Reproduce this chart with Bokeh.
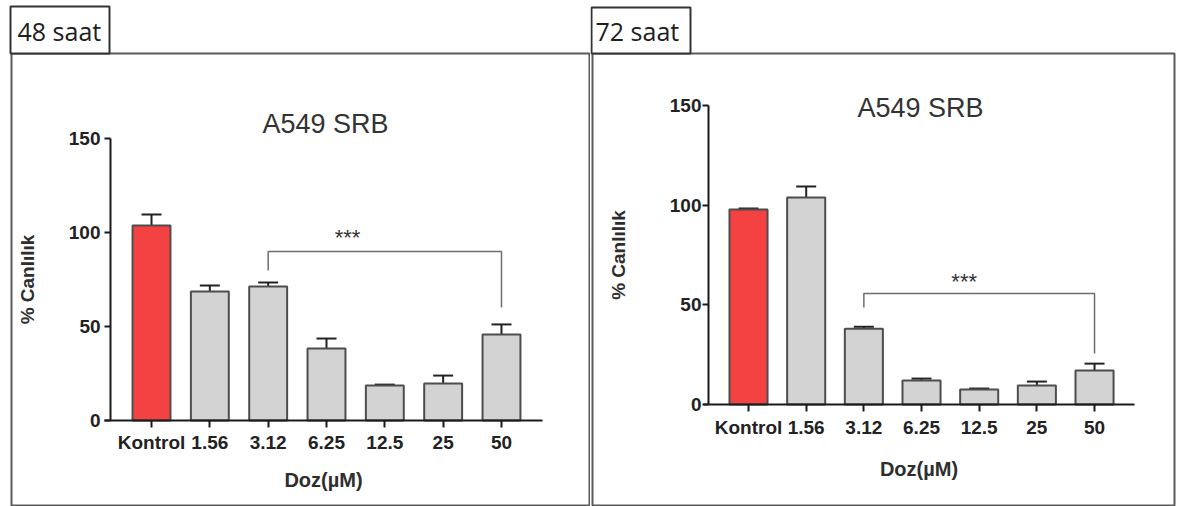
from bokeh.plotting import figure
from bokeh.models import (Range1d, FixedTicker, ColumnDataSource, Whisker, TeeHead,
                          BoxAnnotation, Label)
from bokeh.layouts import row
from bokeh.embed import file_html
from bokeh.resources import INLINE
from bokeh.core.properties import value

# ---------------- data ----------------
categories = ["Kontrol", "1.56", "3.12", "6.25", "12.5", "25", "50"]
viability_48h = [103.7, 68.6, 71.3, 38.3, 18.6, 19.7, 45.7]
error_48h = [5.9, 3.2, 2.1, 5.3, 0.5, 4.2, 5.4]
viability_72h = [97.8, 103.9, 38.0, 12.0, 7.5, 9.5, 17.0]
error_72h = [0.5, 5.5, 1.0, 1.0, 0.5, 2.0, 3.5]
y_ticks = [0, 50, 100, 150]
# significance bracket "3.12" -> "50": left tip, top, right tip (% values)
bracket_48h = [79.8, 89.9, 60.1]
bracket_72h = [48.7, 55.7, 25.6]
bracket_from, bracket_to = "3.12", "50"
significance = "***"
title_text = "A549 SRB"
x_title = "Doz(µM)"
y_title = "% Canlılık"
panel_labels = ["48 saat", "72 saat"]

H = 506
BAR_COLORS = ["#F44141"] + ["#D3D3D3"] * 6
AX = "#1a1a1a"
TXT = "#222222"


def make_panel(width, xr, yr, yaxis_x, xbounds, bar_w, vals, errs, bracket, star_x, star_y,
               label_text, lbox, pbox, ltxt, ttl, ylab_so, xlab_so, ytick_so, xtick_so):
    p = figure(width=width, height=H, output_backend="svg", toolbar_location=None,
               x_range=Range1d(*xr), y_range=Range1d(*yr),
               min_border=0, min_border_left=0, min_border_right=0,
               min_border_top=0, min_border_bottom=0,
               background_fill_color="white", border_fill_color="white")
    p.outline_line_color = None
    p.xgrid.visible = False
    p.ygrid.visible = False

    # panel frame (canvas pixels)
    def box(l, r, t, b, **kw):
        return BoxAnnotation(left=l, right=r, top=t, bottom=b,
                             left_units="canvas", right_units="canvas",
                             top_units="canvas", bottom_units="canvas", **kw)

    p.add_layout(box(*pbox, fill_color=None, fill_alpha=0, line_color="#5a5a5a",
                     line_alpha=1.0, line_width=2))

    idx = list(range(len(categories)))
    upper = [v + e for v, e in zip(vals, errs)]
    src = ColumnDataSource(dict(x=idx, top=vals, upper=upper, color=BAR_COLORS))
    p.vbar(x="x", top="top", bottom=0, width=bar_w, fill_color="color",
           line_color="#4d4d4d", line_width=2, source=src)
    p.add_layout(Whisker(source=src, base="x", upper="upper", lower="top",
                         dimension="height", line_color="#222222", line_width=2,
                         upper_head=TeeHead(size=20, line_color="#222222", line_width=2),
                         lower_head=None))

    i0, i1 = categories.index(bracket_from), categories.index(bracket_to)
    p.line(x=[i0, i0, i1, i1], y=[bracket[0], bracket[1], bracket[1], bracket[2]],
           line_color="#6e6e6e", line_width=1.5)
    p.text(x=[star_x], y=[star_y], text=[significance], text_font=value("Liberation Sans"),
           text_font_size="22px", text_align="center", text_baseline="middle",
           text_color="#333333")

    ya = p.yaxis[0]
    ya.fixed_location = yaxis_x
    ya.ticker = FixedTicker(ticks=y_ticks)
    ya.bounds = (0, 150)
    ya.axis_line_width = 2
    ya.axis_line_color = AX
    ya.major_tick_line_width = 2
    ya.major_tick_line_color = AX
    ya.major_tick_out = 6
    ya.major_tick_in = 0
    ya.minor_tick_out = 0
    ya.minor_tick_in = 0
    ya.major_label_text_font = "Liberation Sans"
    ya.major_label_text_font_style = "bold"
    ya.major_label_text_font_size = "19px"
    ya.major_label_text_color = TXT
    ya.major_label_standoff = ytick_so
    ya.axis_label = y_title
    ya.axis_label_text_font = "Liberation Sans"
    ya.axis_label_text_font_style = "bold"
    ya.axis_label_text_font_size = "19px"
    ya.axis_label_text_color = "#2e2e2e"
    ya.axis_label_standoff = ylab_so

    xa = p.xaxis[0]
    xa.fixed_location = 0
    xa.ticker = FixedTicker(ticks=idx)
    xa.bounds = xbounds
    xa.major_label_overrides = {i: c for i, c in zip(idx, categories)}
    xa.axis_line_width = 2
    xa.axis_line_color = AX
    xa.major_tick_line_width = 2
    xa.major_tick_line_color = AX
    xa.major_tick_out = 7
    xa.major_tick_in = 0
    xa.minor_tick_out = 0
    xa.minor_tick_in = 0
    xa.major_label_text_font = "Liberation Sans"
    xa.major_label_text_font_style = "bold"
    xa.major_label_text_font_size = "19px"
    xa.major_label_text_color = TXT
    xa.major_label_standoff = xtick_so
    xa.axis_label = x_title
    xa.axis_label_text_font = "Liberation Sans"
    xa.axis_label_text_font_style = "bold"
    xa.axis_label_text_font_size = "20px"
    xa.axis_label_text_color = "#2e2e2e"
    xa.axis_label_standoff = xlab_so

    # time label box and texts (canvas pixels)
    p.add_layout(box(*lbox, fill_color="white", fill_alpha=1.0, line_color="#333333",
                     line_alpha=1.0, line_width=2))
    p.add_layout(Label(x=ltxt[0], y=ltxt[1], x_units="canvas", y_units="canvas",
                       text=label_text, text_font="Open Sans", text_font_size="25px",
                       text_color="#202020", text_align="left", text_baseline="middle"))
    p.add_layout(Label(x=ttl[0], y=ttl[1], x_units="canvas", y_units="canvas",
                       text=title_text, text_font="Liberation Sans", text_font_size="27px",
                       text_color="#333333", text_align="center", text_baseline="middle"))
    return p


p1 = make_panel(590, (-2.589, 7.526), (-45.74, 223.4), -0.703, (-0.806, 6.703), 0.65,
                viability_48h, error_48h, bracket_48h, 3.36, 97.3, panel_labels[0],
                lbox=(10, 109, 6, 53), pbox=(11, 589, 53, 505), ltxt=(17, 30),
                ttl=(325, 123), ylab_so=28, xlab_so=13, ytick_so=4, xtick_so=4)
p2 = make_panel(588, (-2.740, 7.456), (-51.18, 202.7), -0.694, (-0.780, 6.693), 0.66,
                viability_72h, error_72h, bracket_72h, 3.74, 61.7, panel_labels[1],
                lbox=(1, 100, 7, 53), pbox=(2, 584, 53, 505), ltxt=(5, 30),
                ttl=(330, 107), ylab_so=38, xlab_so=16, ytick_so=1, xtick_so=6)

layout = row(p1, p2, spacing=0)
open("out.html", "w").write(file_html(layout, INLINE))
